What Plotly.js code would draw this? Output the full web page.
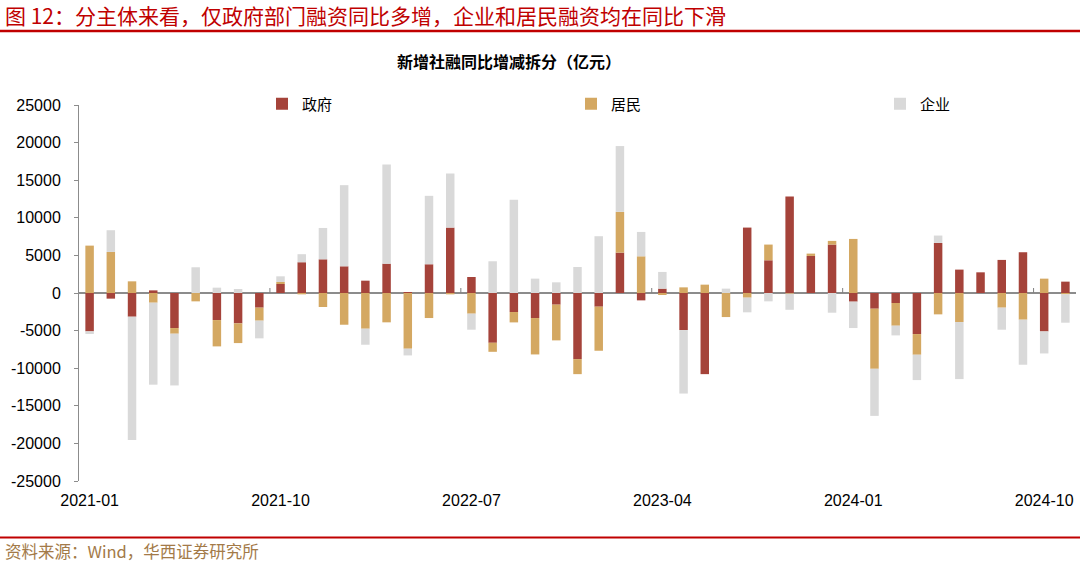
<!DOCTYPE html>
<html>
<head>
<meta charset="utf-8">
<script src="https://cdn.plot.ly/plotly-3.0.1.min.js"></script>
<style>
html,body{margin:0;padding:0;background:#fff;}
#chart{width:1080px;height:564px;}
</style>
</head>
<body>
<div id="chart"></div>
<script>
const months = ['2021-01','2021-02','2021-03','2021-04','2021-05','2021-06','2021-07','2021-08','2021-09','2021-10','2021-11','2021-12',
'2022-01','2022-02','2022-03','2022-04','2022-05','2022-06','2022-07','2022-08','2022-09','2022-10','2022-11','2022-12',
'2023-01','2023-02','2023-03','2023-04','2023-05','2023-06','2023-07','2023-08','2023-09','2023-10','2023-11','2023-12',
'2024-01','2024-02','2024-03','2024-04','2024-05','2024-06','2024-07','2024-08','2024-09','2024-10','2024-11'];

const gov = [-5100,-750,-3150,350,-4660,0,-3600,-4040,-1950,1200,4090,4480,
3550,1640,3900,130,3820,8700,2130,-6620,-2530,-3330,-1550,-8790,
-1820,5370,-980,580,-4930,-10790,0,8700,4350,12830,4930,6440,
-1150,-2090,-1330,-5460,6660,3110,2750,4400,5420,-5110,1510];

const household = [6300,5460,1550,-1290,-755,-1110,-3500,-2620,-1730,270,-180,-1860,
-4220,-4750,-3900,-7410,-3330,-180,-2750,-1200,-1380,-4840,-4750,-2000,
-5860,5420,4880,-270,750,1110,-3200,-620,2090,-100,310,490,
7190,-7990,-3020,-2750,-2840,-3860,0,-1950,-3550,1910,-180];

const enterprise = [-350,2890,-16400,-10900,-6880,3420,710,530,-2350,750,1070,4170,
10790,-2130,13190,-890,9100,7190,-2130,4220,12390,1910,1420,3460,
7550,8750,3240,2220,-8440,0,580,-1950,-1110,-2130,0,-2620,
-3510,-6260,-1290,-3370,980,-7590,0,-2930,-5990,-2930,-3770];

const seriesNames = ['政府','居民','企业'];
const tickLabels = ['2021-01','2021-10','2022-07','2023-04','2024-01','2024-10'];
const yTicks = [-25000,-20000,-15000,-10000,-5000,0,5000,10000,15000,20000,25000];

const colors = ['#A5433A','#D4A862','#D9D9D9'];

// plot area in pixels
const L = 79, R = 1076, T = 105, B = 481, W = 1080, H = 564;
const px = x => (x - L) / (R - L);
const py = y => (B - y) / (B - T);

const traces = [gov, household, enterprise].map((vals, i) => ({
  type: 'bar',
  name: seriesNames[i],
  x: months,
  y: vals,
  marker: {color: colors[i], line: {width: 0}},
  hoverinfo: 'x+y+name'
}));

const shapes = [
  {type:'line', xref:'paper', yref:'paper', x0:px(0), x1:px(W), y0:py(31), y1:py(31), line:{color:'#C00000', width:2.5}},
  {type:'line', xref:'paper', yref:'paper', x0:px(0), x1:px(W), y0:py(537.5), y1:py(537.5), line:{color:'#C00000', width:2}}
];
// boundary tick marks on the zero line, left of each labelled category
tickLabels.slice(1).forEach(lab => {
  const xi = months.indexOf(lab) - 0.5;
  shapes.push({type:'line', xref:'x', yref:'y', ysizemode:'pixel', yanchor:0, x0:xi, x1:xi, y0:0, y1:5,
    line:{color:'#808080', width:1}});
});

const layout = {
  width: W, height: H,
  margin: {l: L, r: W - R, t: T, b: H - B, pad: 0, autoexpand: false},
  paper_bgcolor: '#fff', plot_bgcolor: '#fff',
  barmode: 'relative',
  bargap: 0.6,
  font: {family: 'Liberation Sans, Arial, sans-serif', size: 16, color: '#000'},
  title: {
    text: '<b>新增社融同比增减拆分（亿元）</b>',
    font: {family: 'Noto Sans CJK SC', size: 16, color: '#000'},
    xref: 'container', yref: 'container', x: 509 / W, xanchor: 'center', y: 1 - 62 / H, yanchor: 'middle'
  },
  showlegend: true,
  legend: {
    orientation: 'h',
    xref: 'container', yref: 'container',
    x: 262 / W, xanchor: 'left', y: 1 - 104 / H, yanchor: 'middle',
    entrywidth: 264, entrywidthmode: 'pixels',
    font: {family: 'Noto Sans CJK SC', size: 15, color: '#000'},
    bgcolor: 'rgba(0,0,0,0)', traceorder: 'normal'
  },
  xaxis: {
    type: 'category',
    range: [-0.5, months.length - 0.5],
    tickmode: 'array', tickvals: tickLabels, ticktext: tickLabels,
    ticks: '', showline: false, showgrid: false, zeroline: false,
    tickfont: {family: 'Liberation Sans, Arial, sans-serif', size: 16, color: '#000'},
    ticklabelstandoff: 8
  },
  yaxis: {
    range: [-25000, 25000],
    tickmode: 'array', tickvals: yTicks, ticktext: yTicks.map(String),
    showgrid: false, zeroline: true, zerolinecolor: '#8C8C8C', zerolinewidth: 1.3,
    showline: true, linecolor: '#8C8C8C', linewidth: 1,
    ticks: 'outside', ticklen: 4, tickcolor: '#8C8C8C',
    tickfont: {family: 'Liberation Sans, Arial, sans-serif', size: 16, color: '#000'},
    ticklabelstandoff: 10
  },
  shapes: shapes,
  annotations: [
    {xref:'paper', yref:'paper', x:px(3), y:py(15), xanchor:'left', yanchor:'middle', showarrow:false,
     text:'图 12：分主体来看，仅政府部门融资同比多增，企业和居民融资均在同比下滑',
     font:{family:'Noto Sans CJK SC', size:21, color:'#C00000'}},
    {xref:'paper', yref:'paper', x:px(3), y:py(551), xanchor:'left', yanchor:'middle', showarrow:false,
     text:'资料来源：Wind，华西证券研究所',
     font:{family:'Noto Sans CJK SC', size:16.5, color:'#A37A48'}}
  ]
};

Plotly.newPlot('chart', traces, layout, {displayModeBar: false, staticPlot: true});
</script>
</body>
</html>
